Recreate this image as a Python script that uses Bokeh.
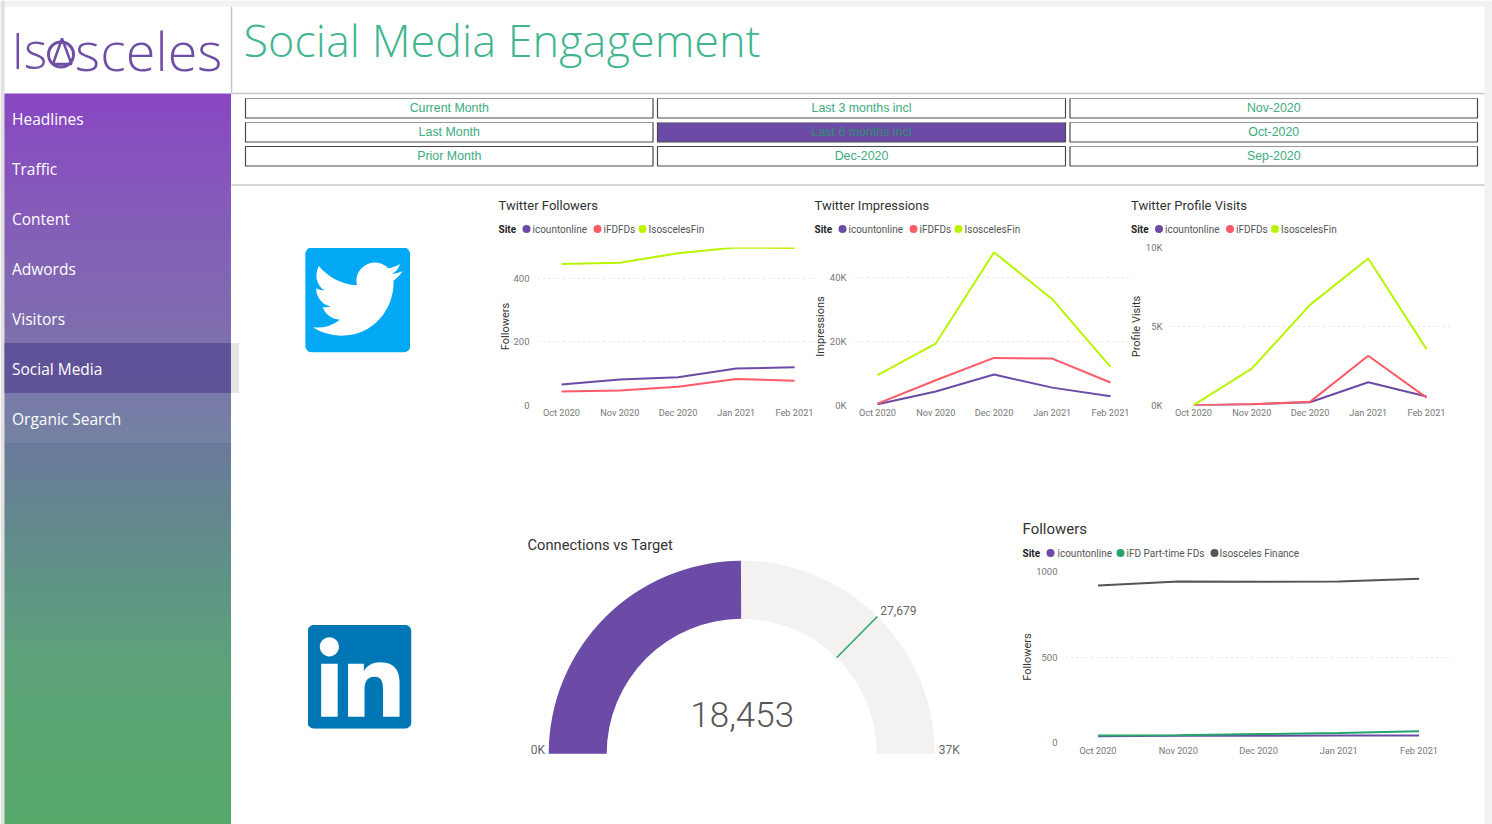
import math
from urllib.parse import quote
from bokeh.plotting import figure
from bokeh.models import Range1d, FixedTicker
from bokeh.core.properties import value
from bokeh.embed import file_html
from bokeh.resources import INLINE

MONTHS = ["Oct 2020", "Nov 2020", "Dec 2020", "Jan 2021", "Feb 2021"]

TW_FOLLOW_ICOUNT = [66, 82, 89, 116, 120]
TW_FOLLOW_IFD = [44, 47, 59, 83, 78]
TW_FOLLOW_ISOS = [445, 449, 479, 497, 495]

TW_IMPR_ICOUNT = [400, 4400, 9700, 5600, 2900]
TW_IMPR_IFD = [600, 7900, 14900, 14700, 7200]
TW_IMPR_ISOS = [9500, 19400, 48000, 33300, 12100]

TW_VISIT_ICOUNT = [0, 80, 210, 1470, 570]
TW_VISIT_IFD = [20, 80, 230, 3150, 500]
TW_VISIT_ISOS = [20, 2330, 6370, 9300, 3570]

LI_FOLLOW_ICOUNT = [37, 39, 39, 41, 41]
LI_FOLLOW_IFD = [41, 43, 49, 56, 66]
LI_FOLLOW_ISOS = [918, 942, 940, 942, 957]

CONN_VALUE = 18453
CONN_TARGET = 27679
CONN_MAX = 37000

NAV_ITEMS = ["Headlines", "Traffic", "Content", "Adwords", "Visitors", "Social Media", "Organic Search"]
SLICER_ROWS = [["Current Month", "Last 3 months incl", "Nov-2020"],
               ["Last Month", "Last 6 months incl", "Oct-2020"],
               ["Prior Month", "Dec-2020", "Sep-2020"]]

PURPLE = "#6b4ba6"
RED = "#ff5a66"
LIME = "#b9f400"
GREEN = "#25a56b"
DARK = "#555555"
TITLE_GREEN = "#41b58f"
CHART_FONT = "Roboto"
NAV_FONT = "Open Sans"

TWITTER = ("M23.953 4.57a10 10 0 01-2.825.775 4.958 4.958 0 002.163-2.723c-.951.555-2.005.959-3.127 1.184a4.92 4.92 0 "
           "00-8.384 4.482C7.69 8.095 4.067 6.13 1.64 3.162a4.822 4.822 0 00-.666 2.475c0 1.71.87 3.213 2.188 4.096a4.904 "
           "4.904 0 01-2.228-.616v.06a4.923 4.923 0 003.946 4.827 4.996 4.996 0 01-2.212.085 4.936 4.936 0 004.604 3.417 "
           "9.867 9.867 0 01-6.102 2.105c-.39 0-.779-.023-1.17-.067a13.995 13.995 0 007.557 2.209c9.053 0 13.998-7.496 "
           "13.998-13.985 0-.21 0-.42-.015-.63A9.935 9.935 0 0024 4.59z")
LINKEDIN = ("M20.447 20.452h-3.554v-5.569c0-1.328-.027-3.037-1.852-3.037-1.853 0-2.136 1.445-2.136 2.939v5.667H9.351V9h3.414"
            "v1.561h.046c.477-.9 1.637-1.85 3.37-1.85 3.601 0 4.267 2.37 4.267 4.266v6.475zM5.337 7.433c-1.144 0-2.063-.926"
            "-2.063-2.065 0-1.138.92-2.063 2.063-2.063 1.14 0 2.064.925 2.064 2.063 0 1.139-.925 2.065-2.064 2.065zm1.782 "
            "13.019H3.555V9h3.564v11.452z")


def at(left, top):
    return {"position": "absolute", "left": f"{left}px", "top": f"{top}px"}


def make_icon(size, bg_col, path, vb, tx, ty):
    svg = (f'<svg xmlns="http://www.w3.org/2000/svg" width="{size*4}" height="{size*4}" viewBox="0 0 {vb} {vb}">'
           f'<rect width="{vb}" height="{vb}" rx="{vb*0.065}" fill="{bg_col}"/>'
           f'<g transform="translate({tx} {ty})"><path d="{path}" fill="#ffffff"/></g></svg>')
    return "data:image/svg+xml," + quote(svg)


# ---------- page chrome
bg = figure(width=1492, height=824, x_range=Range1d(0, 1492), y_range=Range1d(824, 0),
            toolbar_location=None, output_backend="svg", min_border=0, styles=at(0, 0))
bg.axis.visible = False
bg.grid.visible = False
bg.outline_line_color = None
bg.background_fill_color = "#ffffff"
bg.border_fill_color = "#ffffff"

bg.quad(left=[0], right=[1492], top=[0], bottom=[6], fill_color="#f3f2f1", line_color=None)
bg.quad(left=[0], right=[4], top=[0], bottom=[824], fill_color="#e1e0df", line_color=None)
bg.quad(left=[1484], right=[1492], top=[0], bottom=[824], fill_color="#f3f2f1", line_color=None)

STOPS = [(93, (0x7f, 0x37, 0xbd)), (200, (0x7b, 0x4d, 0xb5)), (320, (0x75, 0x60, 0xa8)), (443, (0x69, 0x79, 0x9b)),
         (560, (0x60, 0x90, 0x88)), (663, (0x5d, 0xa2, 0x7a)), (730, (0x58, 0xa5, 0x70)), (824, (0x57, 0xa8, 0x6b))]


def grad(y):
    for (a, ca), (b, cb) in zip(STOPS, STOPS[1:]):
        if a <= y <= b:
            t = (y - a) / (b - a)
            return "#%02x%02x%02x" % tuple(round(u + (v - u) * t) for u, v in zip(ca, cb))
    return "#57a86b"


ys = list(range(93, 824, 3))
bg.quad(left=4, right=230.5, top=ys, bottom=[y + 3.5 for y in ys], fill_color=[grad(y + 1.5) for y in ys], line_color=None)
bg.quad(left=[4], right=[230.5], top=[92.5], bottom=[442.5], fill_color="#ffffff", fill_alpha=0.08, line_color=None)
bg.quad(left=[230.5], right=[238.5], top=[342.5], bottom=[392.5], fill_color="#e6e6e6", line_color=None)
bg.quad(left=[4], right=[230.5], top=[342.5], bottom=[392.5], fill_color="#5d4f96", fill_alpha=0.9, line_color=None)
bg.text(x=[11.5] * len(NAV_ITEMS), y=[118 + 50 * i for i in range(len(NAV_ITEMS))], text=NAV_ITEMS,
        text_font=value(NAV_FONT), text_font_size="15.5px", text_color="#ffffff", text_baseline="middle")

bg.line([231, 231], [6, 93], line_color="#c8c8c8", line_width=1.5)
bg.line([231, 1484], [93, 93], line_color="#c8c8c8", line_width=1.5)
bg.line([231, 1484], [184.5, 184.5], line_color="#c8c8c8", line_width=1.5)

bg.text(x=[243], y=[39], text=["Social Media Engagement"], text_font=value("Open Sans Light"), text_font_size="45px",
        text_color=TITLE_GREEN, text_baseline="middle")

# logo
LOGO = "#6f4ea5"
LOGO_FONT = value("Open Sans Light")
bg.text(x=[11], y=[49], text=["Is"], text_font=LOGO_FONT, text_font_size="50px", text_color=LOGO, text_baseline="middle")
bg.text(x=[74.5], y=[49], text=["sceles"], text_font=LOGO_FONT, text_font_size="54px", text_color=LOGO, text_baseline="middle")
bg.circle(x=[60.5], y=[54], radius=[12.5], fill_color=None, line_color=LOGO, line_width=3)
bg.patch(x=[61.5, 52.5, 71], y=[38, 63.5, 63.5], fill_color=None, line_color=LOGO, line_width=2.5)

# slicers
for r, row in enumerate(SLICER_ROWS):
    for c, txt in enumerate(row):
        x0 = [245, 657, 1069.5][c]
        x1 = [652.5, 1065, 1477][c]
        y0 = 98 + 24 * r
        sel = txt == "Last 6 months incl"
        bg.quad(left=[x0], right=[x1], top=[y0], bottom=[y0 + 19.5], fill_color=PURPLE if sel else "#ffffff",
                line_color="#4a4a4a", line_width=1.2)
        if r < 2 or c == 2:
            bg.line([x0, x1], [y0, y0], line_color="#9a9a9a", line_width=1.2)
        bg.text(x=[(x0 + x1) / 2], y=[y0 + 9.5], text=[txt], text_font=value("Liberation Sans"), text_font_size="12.4px",
                text_color="#2f9070" if sel else "#3bac7e", text_align="center", text_baseline="middle")

# icons
bg.image_url(url=[make_icon(105, "#03a9f4", TWITTER, 28, 2, 1.75)], x=[304.7], y=[247], w=[105], h=[105], anchor="top_left")
bg.image_url(url=[make_icon(104, "#0077b5", LINKEDIN, 22.4, -0.62, -0.63)], x=[307], y=[624.3], w=[104], h=[104], anchor="top_left")


# ---------- chart titles and legends
def chart_head(title, tx, ty, tsize, names, colors, site_x, ly, dot_xs, txt_xs):
    bg.text(x=[tx], y=[ty], text=[title], text_font=value(CHART_FONT), text_font_size=tsize, text_color="#333333",
            text_baseline="middle")
    bg.text(x=[site_x], y=[ly], text=["Site"], text_font=value(CHART_FONT), text_font_size="10px", text_font_style="bold",
            text_color="#222222", text_baseline="middle")
    bg.scatter(x=dot_xs, y=[ly] * len(dot_xs), marker="circle", size=8, fill_color=colors, line_color=None)
    bg.text(x=txt_xs, y=[ly] * len(txt_xs), text=names, text_font=value(CHART_FONT), text_font_size="10px",
            text_color="#555555", text_baseline="middle")


# ---------- line charts
def line_chart(frame, oct_px, feb_px, ymax, yticks, ylabels, ylabel, series, label_standoff, x_standoff, y_standoff):
    fx0, fy0, fx1, fy1 = frame
    lpad, rpad, tpad, bpad = 70, 10, 10, 40
    step = (feb_px - oct_px) / 4
    xr = Range1d(-(oct_px - fx0) / step, 4 + (fx1 - feb_px) / step)
    p = figure(width=int(fx1 - fx0 + lpad + rpad), height=int(fy1 - fy0 + tpad + bpad), x_range=xr, y_range=Range1d(0, ymax),
               toolbar_location=None, output_backend="svg",
               min_border_left=lpad, min_border_right=rpad, min_border_top=tpad, min_border_bottom=bpad,
               styles=at(fx0 - lpad, fy0 - tpad))
    p.background_fill_color = None
    p.border_fill_color = None
    p.outline_line_color = None

    xs = list(range(len(MONTHS)))
    for col, vals in series:
        p.line(xs, vals, line_color=col, line_width=2)

    p.xaxis.ticker = FixedTicker(ticks=xs)
    p.xaxis.major_label_overrides = dict(zip(xs, MONTHS))
    p.yaxis.ticker = FixedTicker(ticks=yticks)
    p.yaxis.major_label_overrides = dict(zip(yticks, ylabels))
    p.yaxis.axis_label = ylabel
    for ax in (p.xaxis, p.yaxis):
        ax.axis_line_color = None
        ax.major_tick_line_color = None
        ax.minor_tick_line_color = None
        ax.major_label_text_font = CHART_FONT
        ax.major_label_text_font_size = "9.5px"
        ax.major_label_text_color = "#777777"
    p.xaxis.major_label_text_font_size = "9.2px"
    p.xaxis.major_label_standoff = x_standoff
    p.yaxis.major_label_standoff = y_standoff
    p.yaxis.axis_label_text_font = CHART_FONT
    p.yaxis.axis_label_text_font_size = "11px"
    p.yaxis.axis_label_text_font_style = "normal"
    p.yaxis.axis_label_text_color = "#333333"
    p.yaxis.axis_label_standoff = label_standoff
    p.xgrid.visible = False
    p.ygrid.ticker = FixedTicker(ticks=yticks)
    p.ygrid.grid_line_color = "#cfcfcf"
    p.ygrid.grid_line_dash = "1 4"
    return p


TW_NAMES = ["icountonline", "iFDFDs", "IsoscelesFin"]
TW_COLORS = [PURPLE, RED, LIME]
for dx, ttl in [(0, "Twitter Followers"), (316, "Twitter Impressions"), (632.5, "Twitter Profile Visits")]:
    chart_head(ttl, 498 + dx, 205, "13px", TW_NAMES, TW_COLORS, 498 + dx, 228.5,
               [526 + dx, 597 + dx, 642 + dx], [532 + dx, 603 + dx, 648 + dx])
chart_head("Followers", 1022, 528.5, "15px", ["icountonline", "iFD Part-time FDs", "Isosceles Finance"], [PURPLE, GREEN, DARK],
           1022, 552.5, [1050, 1120, 1214], [1057, 1126, 1219])

tw1 = line_chart((538, 247, 816, 405), 561, 794, 158 / 0.318, [0, 200, 400], ["0", "200", "400"], "Followers",
                 [(PURPLE, TW_FOLLOW_ICOUNT), (RED, TW_FOLLOW_IFD), (LIME, TW_FOLLOW_ISOS)], -2, -5, 3)
tw2 = line_chart((852, 247, 1132, 405), 877, 1110, 49500, [0, 20000, 40000], ["0K", "20K", "40K"], "Impressions",
                 [(PURPLE, TW_IMPR_ICOUNT), (RED, TW_IMPR_IFD), (LIME, TW_IMPR_ISOS)], 0, -5, 0)
tw3 = line_chart((1168, 247, 1450, 405), 1193, 1426, 10000, [0, 5000, 10000], ["0K", "5K", "10K"], "Profile Visits",
                 [(PURPLE, TW_VISIT_ICOUNT), (RED, TW_VISIT_IFD), (LIME, TW_VISIT_ISOS)], 0, -5, 0)
li1 = line_chart((1066, 571, 1452, 742), 1097.5, 1418.5, 1000, [0, 500, 1000], ["0", "500", "1000"], "Followers",
                 [(PURPLE, LI_FOLLOW_ICOUNT), (GREEN, LI_FOLLOW_IFD), (DARK, LI_FOLLOW_ISOS)], -1, -4, 3)

# ---------- gauge
G_CX, G_CY = 741.2, 753.3
R_OUT, R_IN = 193, 135
gauge = figure(width=460, height=240, x_range=Range1d(515 - G_CX, 975 - G_CX), y_range=Range1d(G_CY - 770, G_CY - 530),
               toolbar_location=None, output_backend="svg", min_border=0, styles=at(515, 530))
gauge.axis.visible = False
gauge.grid.visible = False
gauge.outline_line_color = None
gauge.background_fill_color = None
gauge.border_fill_color = None


def ang(v):
    return math.pi * (1 - v / CONN_MAX)


gauge.annular_wedge(x=[0], y=[0], inner_radius=R_IN, outer_radius=R_OUT, start_angle=0, end_angle=math.pi,
                    fill_color="#f3f2f1", line_color=None)
gauge.annular_wedge(x=[0], y=[0], inner_radius=R_IN, outer_radius=R_OUT, start_angle=ang(CONN_VALUE), end_angle=math.pi,
                    fill_color=PURPLE, line_color=None)
ta = ang(CONN_TARGET)
gauge.line([R_IN * math.cos(ta), R_OUT * math.cos(ta)], [R_IN * math.sin(ta), R_OUT * math.sin(ta)], line_color=GREEN, line_width=1.5)
gauge.text(x=[0.5], y=[G_CY - 714], text=[f"{CONN_VALUE:,}"], text_font=value("Roboto Light"), text_font_size="35px",
           text_color="#555555", text_align="center", text_baseline="middle")
gauge.text(x=[R_OUT * math.cos(ta) + 3], y=[R_OUT * math.sin(ta) + 6], text=[f"{CONN_TARGET:,}"], text_font=value(CHART_FONT), text_font_size="12px",
           text_color="#666666", text_baseline="middle")
gauge.text(x=[-R_OUT - 18], y=[4], text=["0K"], text_font=value(CHART_FONT), text_font_size="12px", text_color="#666666", text_baseline="middle")
gauge.text(x=[R_OUT + 4], y=[4], text=["37K"], text_font=value(CHART_FONT), text_font_size="12px", text_color="#666666", text_baseline="middle")

bg.text(x=[527], y=[544.5], text=["Connections vs Target"], text_font=value(CHART_FONT), text_font_size="14.7px",
        text_color="#333333", text_baseline="middle")

open("out.html", "w").write(file_html([bg, tw1, tw2, tw3, li1, gauge], INLINE))
